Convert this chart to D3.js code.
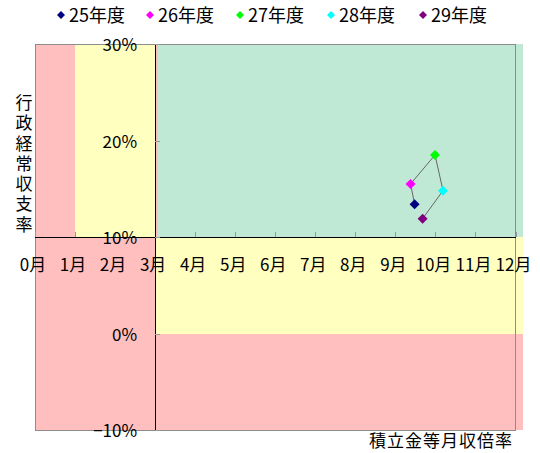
<!DOCTYPE html>
<html>
<head>
<meta charset="utf-8">
<script src="https://cdn.jsdelivr.net/npm/d3@7"></script>
<style>
  body { margin: 0; background: #fff; }
  text { font-family: "Noto Sans CJK JP", sans-serif; fill: #000; }
  .crisp { shape-rendering: crispEdges; }
</style>
</head>
<body>
<div id="chart"></div>
<script>
/* CONSTANTS AND GLOBALS */
const width = 540,
  height = 453,
  margin = { top: 44, bottom: 23, left: 35, right: 24.5 };

// data
const years = ["25年度", "26年度", "27年度", "28年度", "29年度"];
const colors = ["#000080", "#ff00ff", "#00ff00", "#00ffff", "#800080"];
const months = [9.48, 9.38, 9.99, 10.19, 9.68];      // 積立金等月収倍率
const ratios = [0.134, 0.155, 0.185, 0.148, 0.119];  // 行政経常収支率

const xTicks = d3.range(0, 13);
const yTicks = [-0.1, 0, 0.1, 0.2, 0.3];

// background zones [x0, x1, y0, y1, colour]
const zones = [
  [0, 1, 0.1, 0.3, "#ffbfbf"],
  [1, 3, 0.1, 0.3, "#ffffc0"],
  [3, 3.07, 0.1, 0.3, "#ffbfbf"],
  [3.07, 12.19, 0.1, 0.3, "#bfe9d5"],
  [0, 3, -0.1, 0.1, "#ffbfbf"],
  [3, 12.19, 0, 0.1, "#ffffc0"],
  [3, 12.19, -0.1, 0, "#ffbfbf"]
];

/* SCALES */
const xScale = d3.scaleLinear()
  .domain([0, 12])
  .range([margin.left, width - margin.right]);

const yScale = d3.scaleLinear()
  .domain([-0.1, 0.3])
  .range([height - margin.bottom, margin.top]);

const svg = d3.select("#chart")
  .append("svg")
  .attr("width", width)
  .attr("height", height);

// zones
svg.append("g")
  .attr("class", "crisp")
  .selectAll("rect")
  .data(zones)
  .join("rect")
  .attr("x", d => xScale(d[0]))
  .attr("width", d => xScale(d[1]) - xScale(d[0]))
  .attr("y", d => yScale(d[3]))
  .attr("height", d => yScale(d[2]) - yScale(d[3]))
  .attr("fill", d => d[4]);

// plot border
svg.append("rect")
  .attr("class", "crisp")
  .attr("x", xScale(0))
  .attr("y", yScale(0.3))
  .attr("width", xScale(12) - xScale(0))
  .attr("height", yScale(-0.1) - yScale(0.3))
  .attr("fill", "none")
  .attr("stroke", "#8c8c8c");

// axes (x axis sits on 10%, y axis on 3月)
const xAxis = d3.axisTop(xScale)
  .tickValues(xTicks)
  .tickSize(5)
  .tickFormat("");

const yAxis = d3.axisRight(yScale)
  .tickValues(yTicks)
  .tickSize(5)
  .tickFormat("");

const xAxisGroup = svg.append("g")
  .attr("class", "crisp")
  .attr("transform", `translate(0, ${yScale(0.1)})`)
  .call(xAxis);
xAxisGroup.selectAll(".tick line").attr("stroke", "#999");
xAxisGroup.select(".domain").attr("stroke", "#000").attr("d", `M${xScale(0)},0H${xScale(12)}`);

const yAxisGroup = svg.append("g")
  .attr("class", "crisp")
  .attr("transform", `translate(${xScale(3)}, 0)`)
  .call(yAxis);
yAxisGroup.selectAll(".tick line").attr("stroke", "#999");
yAxisGroup.select(".domain").attr("stroke", "#000").attr("d", `M0,${yScale(0.3)}V${yScale(-0.1)}`);

// tick labels
svg.append("g")
  .selectAll("text")
  .data(xTicks)
  .join("text")
  .attr("x", d => xScale(d) - 2)
  .attr("y", yScale(0.1) + 34)
  .attr("text-anchor", "middle")
  .style("font-size", "17px")
  .text(d => d + "月");

svg.append("g")
  .selectAll("text")
  .data(yTicks)
  .join("text")
  .attr("x", xScale(3) - 18)
  .attr("y", d => yScale(d) + 7)
  .attr("text-anchor", "end")
  .style("font-size", "17px")
  .text(d => (d < 0 ? "\u2212" : "") + Math.round(Math.abs(d) * 100) + "%");

// axis titles
svg.append("text")
  .attr("x", 24)
  .attr("y", 94)
  .attr("writing-mode", "vertical-rl")
  .style("font-size", "17px")
  .style("letter-spacing", "3.3px")
  .text("行政経常収支率");

svg.append("text")
  .attr("x", 513)
  .attr("y", 447)
  .attr("text-anchor", "end")
  .style("font-size", "17px")
  .style("letter-spacing", "1px")
  .text("積立金等月収倍率");

// connecting line
const points = years.map((y, i) => ({ year: y, color: colors[i], m: months[i], r: ratios[i] }));

svg.append("path")
  .datum(points)
  .attr("fill", "none")
  .attr("stroke", "#666")
  .attr("stroke-width", 1)
  .attr("d", d3.line().x(d => xScale(d.m)).y(d => yScale(d.r)));

const diamond = d3.symbol().type(d3.symbolSquare);

svg.append("g")
  .selectAll("path")
  .data(points)
  .join("path")
  .attr("d", diamond.size(50)())
  .attr("transform", d => `translate(${xScale(d.m)}, ${yScale(d.r)}) rotate(45)`)
  .attr("fill", d => d.color);

// legend
const legendX = [61, 150, 240, 331, 423];
const legend = svg.append("g")
  .selectAll("g")
  .data(points)
  .join("g")
  .attr("transform", (d, i) => `translate(${legendX[i]}, 15)`);

legend.append("path")
  .attr("d", d3.symbol().type(d3.symbolSquare).size(32)())
  .attr("transform", "rotate(45)")
  .attr("fill", d => d.color);

legend.append("text")
  .attr("x", 8)
  .attr("y", 7)
  .style("font-size", "18px")
  .text(d => d.year);
</script>
</body>
</html>
